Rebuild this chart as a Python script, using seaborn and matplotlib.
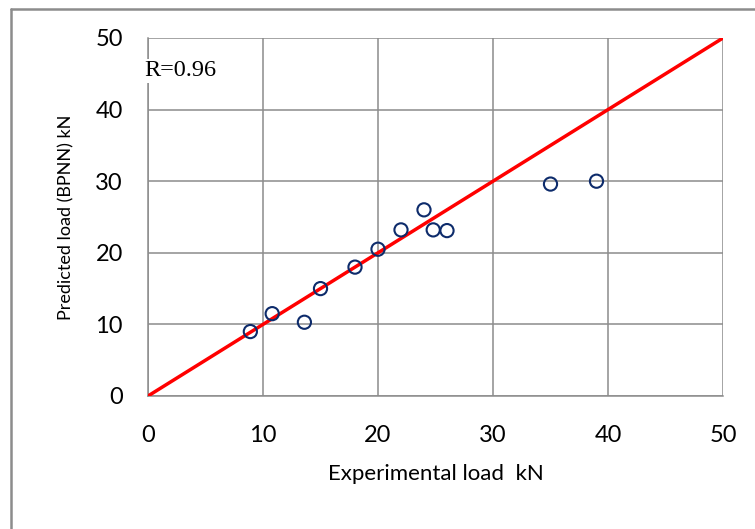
import matplotlib
matplotlib.use("Agg")
import matplotlib.pyplot as plt
import seaborn as sns
import pandas as pd
from matplotlib.lines import Line2D

experimental = [8.9, 10.8, 13.6, 15.0, 18.0, 20.0, 22.0, 24.0, 24.8, 26.0, 35.0, 39.0]
predicted = [9.0, 11.5, 10.3, 15.0, 18.0, 20.5, 23.2, 26.0, 23.2, 23.1, 29.6, 30.0]
line_x = [0, 50]
line_y = [0, 50]
ticks = [0, 10, 20, 30, 40, 50]

sns.set_style("white")
plt.rcParams['font.family'] = ['Lato', 'DejaVu Sans']
plt.rcParams['text.color'] = 'black'
plt.rcParams['axes.labelcolor'] = 'black'

fig = plt.figure(figsize=(7.55, 5.29), dpi=100)
ax = fig.add_axes([148/755, 1-396/529, (723-148)/755, (396-38)/529])

grid_c = '#8c8c8c'
ax.set_xlim(0, 50)
ax.set_ylim(0, 50)
ax.set_xticks(ticks)
ax.set_yticks(ticks)
ax.grid(True, color=grid_c, linewidth=1.1)
ax.set_axisbelow(True)
for s in ['top', 'right']:
    ax.spines[s].set_visible(False)
for s in ['left', 'bottom']:
    ax.spines[s].set_color(grid_c)
    ax.spines[s].set_linewidth(1.1)
ax.tick_params(axis='both', direction='out', length=6, width=1.1, color=grid_c,
               labelsize=17, labelcolor='black')
ax.tick_params(axis='x', pad=15)
ax.tick_params(axis='y', pad=12)

df = pd.DataFrame({'x': experimental, 'y': predicted})
sns.lineplot(x=line_x, y=line_y, ax=ax, color='#ff0000', linewidth=2.5, zorder=3)
sns.scatterplot(data=df, x='x', y='y', ax=ax, s=90, facecolors='none',
                edgecolor='#0d2b6b', linewidth=1.5, zorder=4, clip_on=False)

ax.set_xlabel('Experimental load  kN', fontsize=16, labelpad=13, color='black')
ax.set_ylabel('Predicted load (BPNN) kN', fontsize=13, labelpad=15, color='black')

ax.text(-0.3, 45.4, 'R=0.96', fontsize=17.5, family='Liberation Serif', va='center', ha='left',
        color='black', bbox=dict(facecolor='white', edgecolor='none', pad=1), zorder=5, clip_on=False)

fig.add_artist(Line2D([11/755, 11/755], [0, 1-9/529], color='#8c8c8c', linewidth=1.8,
                      transform=fig.transFigure))
fig.add_artist(Line2D([11/755, 1], [1-9/529, 1-9/529], color='#8c8c8c', linewidth=1.8,
                      transform=fig.transFigure))

fig.savefig('out.png', dpi=100)
